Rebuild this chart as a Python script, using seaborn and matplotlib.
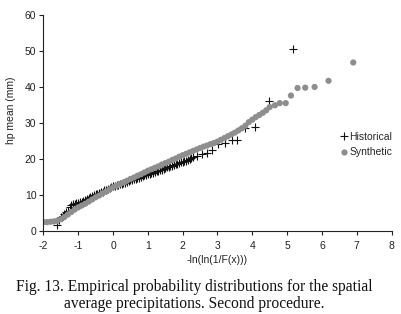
import matplotlib
matplotlib.use("Agg")
import matplotlib.pyplot as plt
import seaborn as sns
import pandas as pd
from matplotlib.lines import Line2D

# Synthetic series (gray dots)
syn_x = [-2.0, -1.9, -1.8, -1.7, -1.6, -1.5, -1.4, -1.3, -1.2, -1.1,
         -1.0, -0.9, -0.8, -0.7, -0.6, -0.5, -0.4, -0.3, -0.2, -0.1,
         0.0, 0.1, 0.2, 0.3, 0.4, 0.5, 0.6, 0.7, 0.8, 0.9,
         1.0, 1.1, 1.2, 1.3, 1.4, 1.5, 1.6, 1.7, 1.8, 1.9,
         2.0, 2.1, 2.2, 2.3, 2.4, 2.5, 2.6, 2.7, 2.8, 2.9,
         3.0, 3.1, 3.2, 3.3, 3.4, 3.5, 3.6, 3.7, 3.8, 3.9,
         4.0, 4.1, 4.2, 4.3, 4.4,
         4.5, 4.65, 4.79, 4.96, 5.11, 5.30, 5.52, 5.79, 6.19, 6.90]
syn_y = [2.5, 2.5, 2.6, 2.7, 2.9, 3.3, 3.9, 4.6, 5.3, 6.0,
         6.6, 7.1, 7.6, 8.2, 8.8, 9.4, 9.9, 10.5, 11.0, 11.6,
         12.2, 12.6, 13.1, 13.5, 14.0, 14.5, 14.9, 15.4, 15.8, 16.3,
         16.8, 17.2, 17.6, 18.0, 18.5, 18.9, 19.3, 19.8, 20.2, 20.7,
         21.1, 21.5, 21.9, 22.3, 22.7, 23.1, 23.5, 23.8, 24.2, 24.5,
         24.9, 25.4, 25.9, 26.4, 26.9, 27.4, 28.0, 28.6, 29.3, 30.3,
         31.0, 31.7, 32.3, 32.9, 33.6,
         34.5, 35.0, 35.6, 35.6, 37.7, 39.8, 39.9, 40.1, 41.8, 46.9]

# Historical series (black crosses)
his_x = [-1.62, -1.55, -1.5, -1.45, -1.4, -1.35, -1.3, -1.25, -1.2, -1.15,
         -1.1, -1.05, -1.0, -0.95, -0.9, -0.85, -0.8, -0.75, -0.7, -0.65,
         -0.6, -0.55, -0.5, -0.45, -0.4, -0.35, -0.3, -0.25, -0.2, -0.15,
         -0.1, -0.05, 0.0, 0.05, 0.1, 0.15, 0.2, 0.25, 0.3, 0.35,
         0.4, 0.45, 0.5, 0.55, 0.6, 0.65, 0.7, 0.75, 0.8, 0.85,
         0.9, 0.95, 1.0, 1.05, 1.1, 1.15, 1.2, 1.25, 1.3, 1.35,
         1.4, 1.45, 1.5, 1.55, 1.6, 1.65, 1.7, 1.75, 1.8, 1.85,
         1.9, 1.95, 2.0, 2.05, 2.1, 2.15, 2.2, 2.25, 2.3, 2.4,
         2.55, 2.69, 2.83, 3.02, 3.21, 3.41, 3.57, 3.79, 4.07, 4.49,
         5.17]
his_y = [1.6, 3.0, 3.8, 4.2, 4.8, 5.2, 5.6, 6.8, 7.2, 7.4,
         7.6, 7.7, 7.8, 8.0, 8.2, 8.5, 8.7, 9.0, 9.2, 9.5,
         9.7, 10.0, 10.2, 10.4, 10.6, 10.8, 11.0, 11.3, 11.5, 11.8,
         12.0, 12.3, 12.5, 12.5, 12.7, 12.8, 13.0, 13.1, 13.3, 13.5,
         13.7, 13.9, 14.1, 14.2, 14.4, 14.6, 14.8, 14.9, 15.1, 15.3,
         15.5, 15.6, 15.8, 15.9, 16.1, 16.3, 16.5, 16.6, 16.8, 16.9,
         17.1, 17.3, 17.5, 17.7, 17.9, 18.0, 18.2, 18.4, 18.6, 18.7,
         18.9, 19.1, 19.3, 19.4, 19.6, 19.8, 20.0, 20.3, 20.6, 21.0,
         21.4, 21.6, 22.5, 24.2, 24.5, 25.3, 25.3, 28.7, 29.0, 36.1,
         50.7]

x_ticks = [-2, -1, 0, 1, 2, 3, 4, 5, 6, 7, 8]
y_ticks = [0, 10, 20, 30, 40, 50, 60]

GRAY = "#8e8e8e"
INK = "#222222"

sns.set_theme(style="ticks")
plt.rcParams["font.family"] = ["Liberation Sans", "DejaVu Sans"]
plt.rcParams["axes.unicode_minus"] = False

fig = plt.figure(figsize=(4.02, 3.14), dpi=100)
ax = fig.add_axes([0.108, 0.264, 0.866, 0.687])

hist = pd.DataFrame({"x": his_x, "y": his_y})
syn = pd.DataFrame({"x": syn_x, "y": syn_y})

sns.scatterplot(data=hist, x="x", y="y", marker="+", s=30, color="#111111",
                linewidth=0.8, ax=ax, legend=False)
sns.scatterplot(data=syn, x="x", y="y", marker="o", s=20, color=GRAY,
                edgecolor="none", ax=ax, legend=False)

ax.set_xlim(-2, 8)
ax.set_ylim(0, 60)
ax.set_xticks(x_ticks)
ax.set_yticks(y_ticks)
ax.tick_params(labelsize=7.5, length=3, width=0.8, color=INK,
               labelcolor=INK)
ax.tick_params(axis="x", pad=4)
ax.tick_params(axis="y", pad=2)
for side in ["left", "bottom"]:
    ax.spines[side].set_linewidth(0.8)
    ax.spines[side].set_color(INK)
sns.despine(ax=ax)

ax.set_xlabel("-ln(ln(1/F(x)))", fontsize=7.5, color=INK, labelpad=3)
ax.set_ylabel("hp mean (mm)", fontsize=7.5, color=INK)
ax.yaxis.set_label_coords(-0.078, 0.56)

handles = [
    Line2D([], [], marker="+", linestyle="none", color="#111111",
           markersize=6, markeredgewidth=0.8),
    Line2D([], [], marker="o", linestyle="none", color=GRAY,
           markeredgecolor="none", markersize=4.5),
]
fig.legend(handles, ["Historical", "Synthetic"], loc="center left",
           bbox_to_anchor=(0.848, 0.540), frameon=False, fontsize=7.5,
           handlelength=0.6, handletextpad=0.2, labelspacing=0.55,
           borderaxespad=0, borderpad=0)

fig.text(0.483, 0.059,
         "Fig. 13. Empirical probability distributions for the spatial\n"
         "average precipitations. Second procedure.",
         ha="center", va="center", fontsize=11.2, family="Liberation Serif",
         linespacing=1.1, color="#111111")

fig.savefig("out.png", dpi=100)
